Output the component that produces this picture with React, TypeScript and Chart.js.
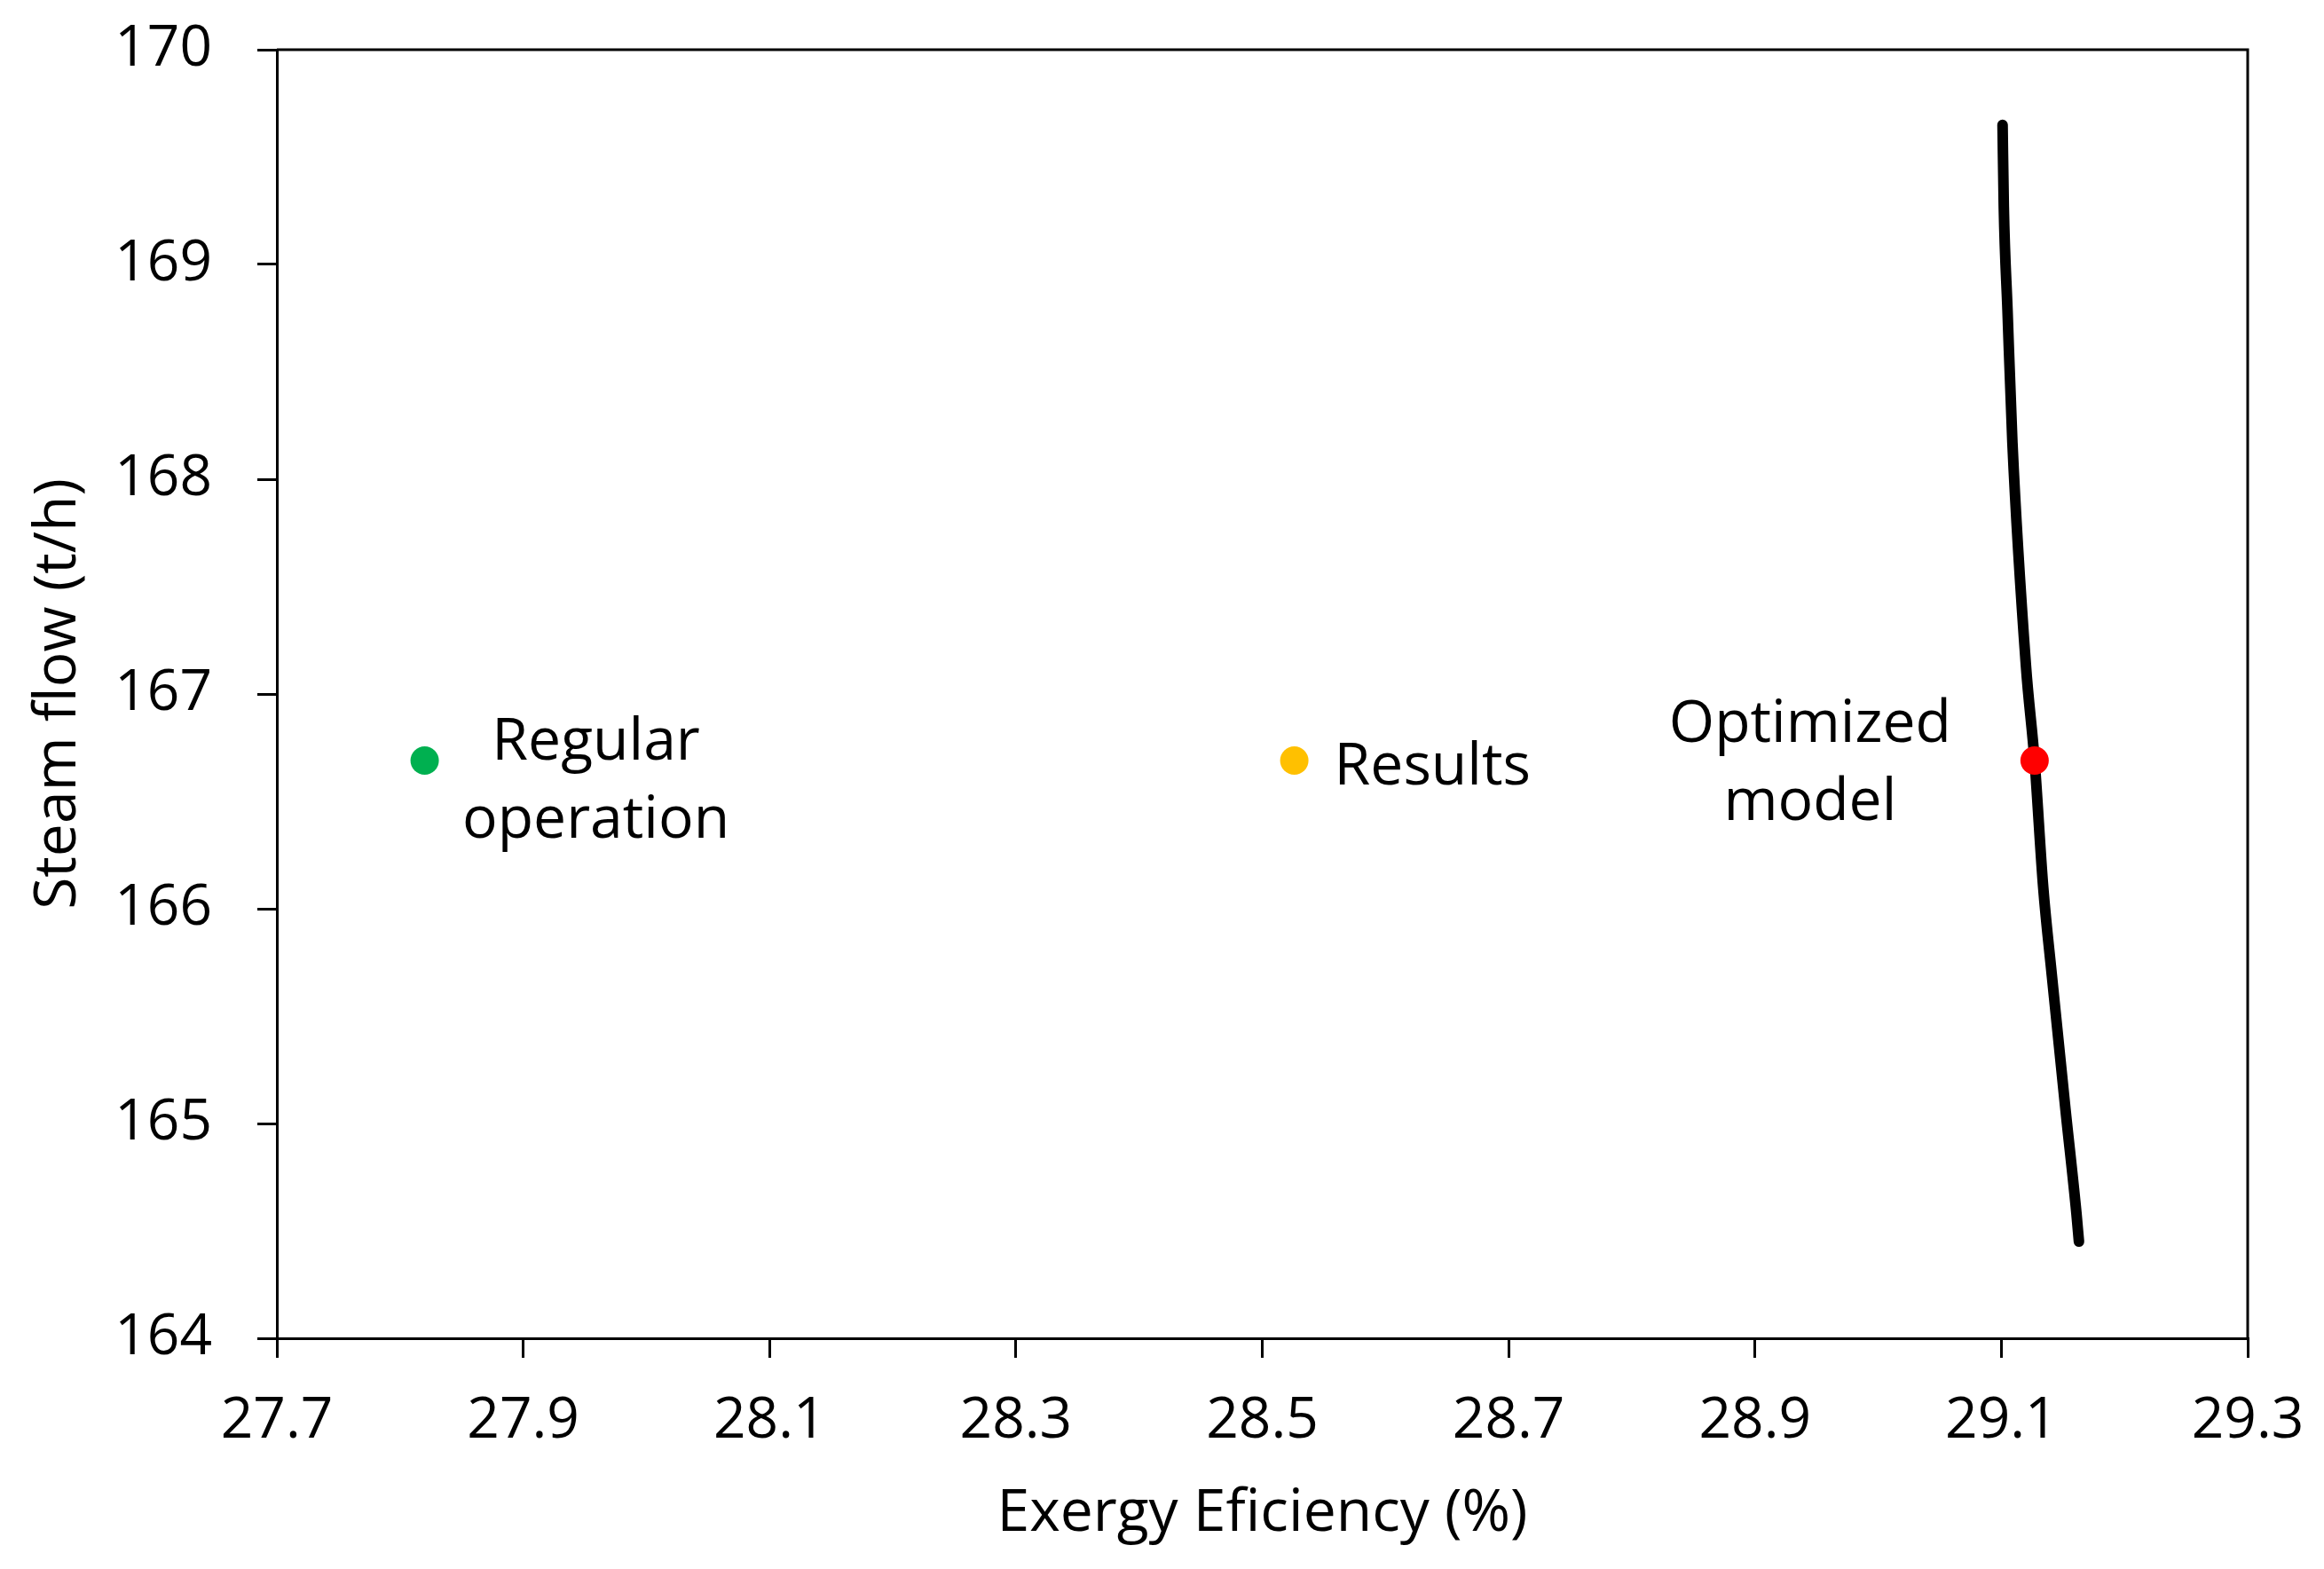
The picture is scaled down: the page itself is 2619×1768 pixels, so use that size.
import React, { useEffect, useRef } from "react";
import { Chart, registerables } from "chart.js";

Chart.register(...registerables);

// Pareto front (optimized solutions)
const frontX = [29.101, 29.102, 29.105, 29.109, 29.120, 29.127, 29.134, 29.141, 29.152, 29.161, 29.163];
const frontY = [169.65, 169.27, 168.79, 168.17, 167.13, 166.69, 166.10, 165.69, 165.07, 164.58, 164.45];

// Highlighted operating points
const pointNames = ["Regular operation", "Results", "Optimized model"];
const pointX = [27.82, 28.526, 29.127];
const pointY = [166.69, 166.69, 166.69];
const pointColors = ["#00B050", "#FFC000", "#FF0000"];

const xTicks = [27.7, 27.9, 28.1, 28.3, 28.5, 28.7, 28.9, 29.1, 29.3];
const yTicks = [164, 165, 166, 167, 168, 169, 170];

const FONT = "'Open Sans', 'DejaVu Sans', sans-serif";

// label lines per point, with pixel offsets from the marker (dx, dy to baseline), align
const labelSpec = [
  { lines: ["Regular", "operation"], dx: 193, dy: [-1, 87], align: "center" },
  { lines: ["Results"], dx: 45, dy: [27], align: "left" },
  { lines: ["Optimized", "model"], dx: -253, dy: [-21, 67], align: "center" },
];

const boxPlugin = {
  id: "boxAndLabels",
  afterDatasetsDraw(chart: any) {
    const { ctx, chartArea, scales } = chart;
    ctx.save();
    ctx.strokeStyle = "#000";
    ctx.lineWidth = 3;
    ctx.beginPath();
    ctx.moveTo(chartArea.left, chartArea.top);
    ctx.lineTo(chartArea.right, chartArea.top);
    ctx.lineTo(chartArea.right, chartArea.bottom);
    ctx.stroke();
    ctx.fillStyle = "#000";
    ctx.font = `66px ${FONT}`;
    ctx.textBaseline = "alphabetic";
    labelSpec.forEach((spec, i) => {
      const px = scales.x.getPixelForValue(pointX[i]);
      const py = scales.y.getPixelForValue(pointY[i]);
      ctx.textAlign = spec.align;
      spec.lines.forEach((ln, j) => {
        ctx.fillText(ln, px + spec.dx, py + spec.dy[j]);
      });
    });
    ctx.restore();
  },
};

function zeroPad(s: any) {
  s.paddingTop = 0;
  s.paddingBottom = 0;
  s.paddingLeft = 0;
  s.paddingRight = 0;
}

export default function App() {
  const ref = useRef<HTMLCanvasElement>(null);
  useEffect(() => {
    const canvas = ref.current!;
    const chart = new Chart(canvas, {
      type: "scatter",
      data: {
        datasets: [
          {
            label: "Pareto front",
            data: frontX.map((x, i) => ({ x, y: frontY[i] })),
            showLine: true,
            borderColor: "#000",
            borderWidth: 12,
            borderCapStyle: "round",
            cubicInterpolationMode: "monotone",
            pointRadius: 0,
            pointHoverRadius: 0,
            order: 2,
          },
          ...pointNames.map((name, i) => ({
            label: name,
            data: [{ x: pointX[i], y: pointY[i] }],
            pointRadius: 16,
            pointBackgroundColor: pointColors[i],
            pointBorderColor: pointColors[i],
            pointBorderWidth: 0,
            order: 1,
          })),
        ],
      },
      options: {
        responsive: false,
        animation: false,
        layout: { padding: { left: 0, top: 56, right: 86, bottom: 0 } },
        plugins: {
          legend: { display: false },
          tooltip: { enabled: false },
        },
        scales: {
          x: {
            type: "linear",
            min: 27.7,
            max: 29.3,
            afterBuildTicks: (s: any) => {
              s.ticks = xTicks.map((v) => ({ value: v }));
            },
            afterFit: (s: any) => {
              s.height = 260;
              zeroPad(s);
            },
            ticks: {
              color: "#000",
              font: { family: FONT, size: 64 },
              padding: 33,
              callback: (v: any) => Number(v).toFixed(1),
              maxRotation: 0,
            },
            grid: {
              drawOnChartArea: false,
              drawTicks: true,
              tickLength: 22,
              color: "#000",
              lineWidth: 3,
            },
            border: { display: true, color: "#000", width: 3 },
            title: {
              display: true,
              text: "Exergy Eficiency (%)",
              color: "#000",
              font: { family: FONT, size: 66 },
              padding: { top: 0, bottom: 22 },
            },
          },
          y: {
            type: "linear",
            min: 164,
            max: 170,
            afterBuildTicks: (s: any) => {
              s.ticks = yTicks.map((v) => ({ value: v }));
            },
            afterFit: (s: any) => {
              s.width = 312;
              zeroPad(s);
            },
            ticks: {
              color: "#000",
              font: { family: FONT, size: 64 },
              padding: 51,
              callback: (v: any) => String(v),
            },
            grid: {
              drawOnChartArea: false,
              drawTicks: true,
              tickLength: 22,
              color: "#000",
              lineWidth: 3,
            },
            border: { display: true, color: "#000", width: 3 },
            title: {
              display: true,
              text: "Steam flow (t/h)",
              color: "#000",
              font: { family: FONT, size: 66 },
              padding: { top: 27, bottom: 0 },
            },
          },
        },
      },
      plugins: [boxPlugin],
    } as any);
    return () => chart.destroy();
  }, []);
  return (
    <div style={{ position: "absolute", left: 0, top: 0, width: 2619, height: 1768, background: "#fff" }}>
      <canvas ref={ref} width={2619} height={1768} style={{ display: "block" }} />
    </div>
  );
}
